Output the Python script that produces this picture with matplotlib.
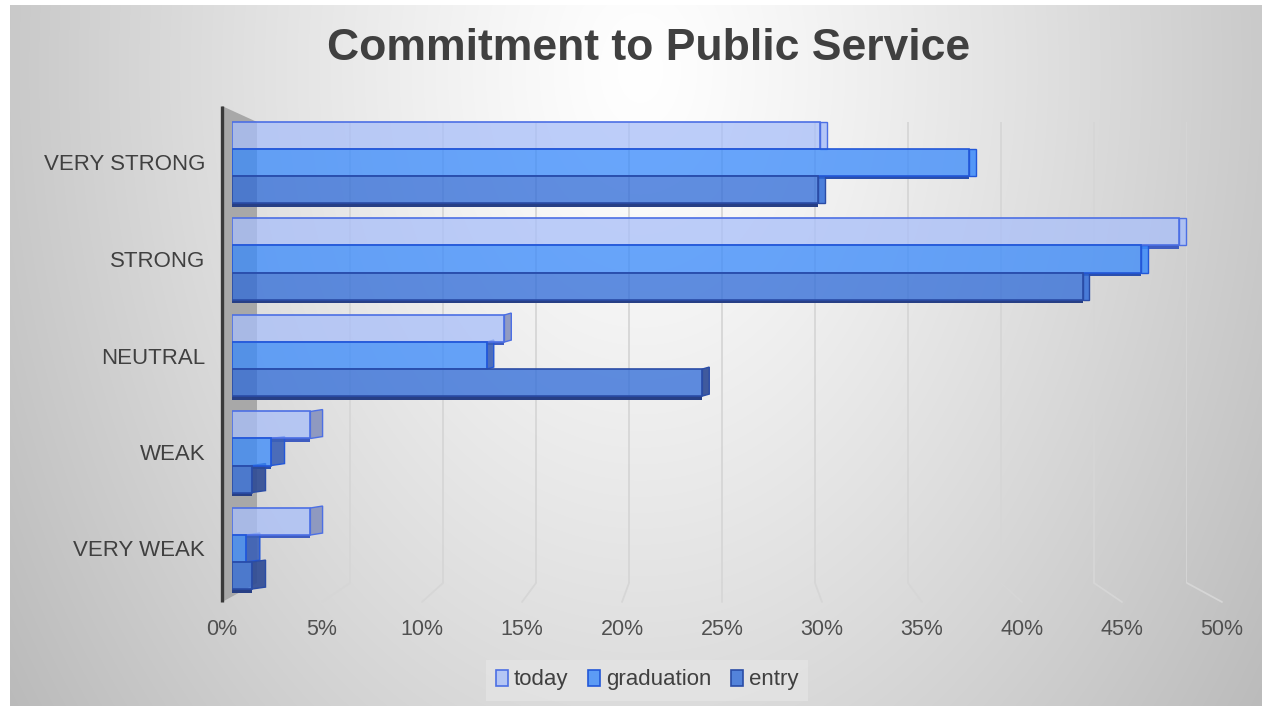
import numpy as np
import matplotlib
matplotlib.use("Agg")
import matplotlib.pyplot as plt
from matplotlib.patches import Patch, Polygon, ConnectionPatch
from matplotlib.colors import to_rgba

# ---- data -------------------------------------------------------------
categories = ["VERY STRONG", "STRONG", "NEUTRAL", "WEAK", "VERY WEAK"]
series_names = ["today", "graduation", "entry"]
today = [30.0, 48.3, 13.9, 4.0, 4.0]
graduation = [37.6, 46.4, 13.0, 2.0, 0.7]
entry = [29.9, 43.4, 24.0, 1.0, 1.0]
x_ticks = [0, 5, 10, 15, 20, 25, 30, 35, 40, 45, 50]
x_tick_labels = [f"{t}%" for t in x_ticks]
title = "Commitment to Public Service"

# ---- styling ----------------------------------------------------------
W, H = 1270, 710
plt.rcParams["font.family"] = ["Liberation Sans", "DejaVu Sans"]
face = ["#a9bff9", "#3a8afb", "#2f6bd8"]
edge = ["#4c6fe4", "#2257d8", "#2a4ca6"]
cap = ["#8792bd", "#3b60b6", "#2d4a94"]
under = ["#3f5cc0", "#2a4fae", "#273f85"]
grid_color = "#d6d6d6"
text_color = "#404040"

fig = plt.figure(figsize=(W / 100, H / 100), dpi=100)
fig.patch.set_facecolor("white")


def rect(x0, y0, x1, y1):
    """Pixel box measured from the top-left corner -> figure fraction rect."""
    return [x0 / W, 1 - y1 / H, (x1 - x0) / W, (y1 - y0) / H]


# soft radial backdrop of the chart area
yy, xx = np.mgrid[5:706, 10:1262]
dist = np.sqrt(((xx - 640) / 700.0) ** 2 + ((yy - 70) / 1000.0) ** 2)
shade = np.clip(1 - 0.24 * dist ** 1.2, 0, 1)
fig.figimage(np.dstack([shade, shade, shade]), xo=10, yo=H - 706,
             origin="upper", zorder=-10)

# back wall (gridlines) and floor front edge (tick labels)
ax_back = fig.add_axes(rect(257, 122, 1187, 583), zorder=-3)
ax_back.set_xlim(0, 50)
ax_back.set_ylim(0, 1)
ax_back.axis("off")
ax_back.vlines(x_ticks[1:], 0, 1, color=grid_color, lw=1.3)

ax_floor = fig.add_axes(rect(222, 106, 1222, 602), zorder=-2)
ax_floor.set_xlim(0, 50)
ax_floor.set_ylim(0, 1)
ax_floor.patch.set_visible(False)
for s in ax_floor.spines.values():
    s.set_visible(False)
ax_floor.set_yticks([])
ax_floor.set_xticks(x_ticks)
ax_floor.set_xticklabels(x_tick_labels, fontsize=15.5, color="#505050")
ax_floor.tick_params(axis="x", length=0, pad=12.5)
ax_floor.plot([0, 0], [0, 1], color="#3a3a3a", lw=2.4, clip_on=False,
              solid_capstyle="butt")

# floor gridlines from the back wall to the front edge
for t in x_ticks[1:]:
    cp = ConnectionPatch(xyA=(t, 0), coordsA=ax_back.transData,
                         xyB=(t, 0), coordsB=ax_floor.transData,
                         color=grid_color, lw=1.3, zorder=-2.5)
    fig.add_artist(cp)

# grey side wall at 0%
inv = fig.transFigure.inverted()
wall_pts = [ax_floor.transData.transform((0, 1)),
            ax_back.transData.transform((0, 1)),
            ax_back.transData.transform((0, 0)),
            ax_floor.transData.transform((0, 0))]
wall = Polygon(inv.transform(np.array(wall_pts)), closed=True,
               transform=fig.transFigure, facecolor="#a8a8a8",
               edgecolor="none", zorder=-2.8)
fig.add_artist(wall)

# main bar axes
ax = fig.add_axes(rect(232, 114.25, 1212, 596.75), zorder=2)
ax.patch.set_visible(False)
for s in ax.spines.values():
    s.set_visible(False)
ax.set_xlim(0, 50)
ax.set_ylim(len(categories) - 0.5, -0.5)
ax.set_xticks([])
y_pos = np.arange(len(categories))
ax.set_yticks(y_pos)
ax.set_yticklabels(categories, fontsize=16, color=text_color)
ax.tick_params(axis="y", length=0, pad=19.4)

h = 0.28
strip = 0.036
series = [today, graduation, entry]
for j, vals in enumerate(series):
    ys = y_pos + (j - 1) * h
    ax.barh(ys, vals, height=h, color=to_rgba(face[j], 0.76),
            edgecolor=edge[j], lw=1.2, zorder=3)
    for i, (y, v) in enumerate(zip(ys, vals)):
        top, bot = y - h / 2, y + h / 2
        # end face of the bar
        back_end = max(0.74 + 0.9704 * v, v + 0.35)
        if v < 25:
            pts = [(v, top), (back_end, top - 0.02), (back_end, bot - 0.02), (v, bot)]
            ax.add_patch(Polygon(pts, closed=True, facecolor=to_rgba(cap[j], 0.9),
                                 edgecolor=edge[j], lw=1.0, zorder=2.8))
        else:
            pts = [(v, top), (back_end, top), (back_end, bot), (v, bot)]
            ax.add_patch(Polygon(pts, closed=True, facecolor=to_rgba(face[j], 0.85),
                                 edgecolor=edge[j], lw=1.0, zorder=2.8))
        # underside visible where the next bar is shorter
        start = series[j + 1][i] if j < len(series) - 1 else 0
        if v > start:
            ax.add_patch(Polygon([(start, bot), (v, bot), (v, bot + strip),
                                  (start, bot + strip)], closed=True,
                                 facecolor=under[j], edgecolor="none", zorder=2.5))

# legend
handles = [Patch(facecolor=to_rgba(face[j], 0.8), edgecolor=edge[j], lw=1.2,
                 label=series_names[j]) for j in range(3)]
leg = fig.legend(handles=handles, loc="center", bbox_to_anchor=(647 / W, 1 - 680 / H),
                 ncol=3, frameon=True, fontsize=16, handlelength=0.55,
                 handleheight=0.75, handletextpad=0.25, columnspacing=0.9,
                 borderpad=0.45, fancybox=False)
leg.get_frame().set_facecolor("#e4e4e4")
leg.get_frame().set_edgecolor("none")
for t in leg.get_texts():
    t.set_color(text_color)

fig.text(649 / W, 1 - 49 / H, title, ha="center", va="center",
         fontsize=32, fontweight="bold", color=text_color)

fig.savefig("out.png", dpi=100)
